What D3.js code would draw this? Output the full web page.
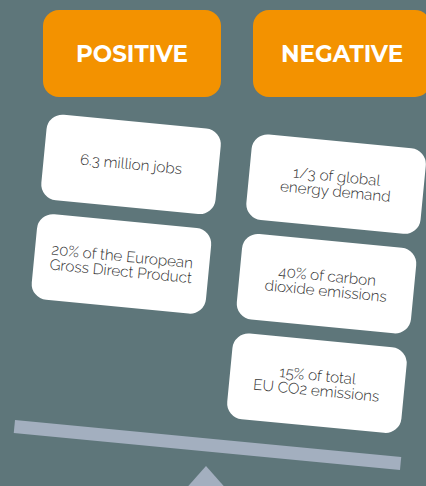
<!DOCTYPE html>
<html>
<head>
<meta charset="utf-8">
<script src="https://cdn.jsdelivr.net/npm/d3@7"></script>
<style>
  html, body { margin: 0; padding: 0; background: #5e767a; }
  svg { display: block; }
</style>
</head>
<body>
<div id="chart"></div>
<script>
// Datos
const headers = ["POSITIVE", "NEGATIVE"];
const positives = [["6.3 million jobs"], ["20% of the European", "Gross Direct Product"]];
const negatives = [["1/3 of global", "energy demand"], ["40% of carbon", "dioxide emissions"], ["15% of total", "EU CO2 emissions"]];
const beamTilt = 5.5; // grados

const width = 426, height = 486;
const svg = d3.select("#chart").append("svg")
    .attr("width", width)
    .attr("height", height);

svg.append("rect")
    .attr("width", width)
    .attr("height", height)
    .attr("fill", "#5e767a");

// Cabeceras naranjas
const xHead = d3.scaleBand()
    .domain(headers)
    .range([43, 431])
    .paddingInner(0.1524);

const head = svg.selectAll("g.head")
    .data(headers)
    .enter().append("g")
    .attr("class", "head");

head.append("rect")
    .attr("x", d => xHead(d))
    .attr("y", 10)
    .attr("width", xHead.bandwidth())
    .attr("height", 87)
    .attr("rx", 16)
    .attr("fill", "#f39200");

head.append("text")
    .attr("x", d => xHead(d) + xHead.bandwidth() / 2)
    .attr("y", 54)
    .attr("text-anchor", "middle")
    .attr("dominant-baseline", "central")
    .attr("font-family", "Montserrat, Lato, sans-serif")
    .attr("font-weight", 700)
    .attr("font-size", 23)
    .attr("fill", "#fff")
    .text(d => d);

// Balancin (grupo girado alrededor del centro de la barra)
const scale = svg.append("g")
    .attr("transform", `translate(207.5,445) rotate(${beamTilt})`);

const xCol = d3.scaleBand()
    .domain(headers)
    .range([-190.5, 190.5])
    .paddingInner(0.1505);

const yRow = d3.scaleBand()
    .domain(d3.range(3))
    .range([-315, -29])
    .paddingInner(0.14);

const xBeam = d3.scaleLinear().domain([0, 1]).range([-194, 194]);

// Barra
scale.append("rect")
    .attr("x", xBeam(0))
    .attr("y", -6.5)
    .attr("width", xBeam(1) - xBeam(0))
    .attr("height", 13)
    .attr("fill", "#a3afbf");

// Tarjetas
const cards = [
    ...positives.map((lines, i) => ({ col: "POSITIVE", row: i, lines })),
    ...negatives.map((lines, i) => ({ col: "NEGATIVE", row: i, lines }))
];

const card = scale.selectAll("g.card")
    .data(cards)
    .enter().append("g")
    .attr("class", "card")
    .attr("transform", d => `translate(${xCol(d.col)},${yRow(d.row)})`);

card.append("rect")
    .attr("width", xCol.bandwidth())
    .attr("height", yRow.bandwidth())
    .attr("rx", 16)
    .attr("fill", "#fff");

const lh = 15;
card.append("text")
    .attr("x", xCol.bandwidth() / 2)
    .attr("y", yRow.bandwidth() / 2)
    .attr("text-anchor", "middle")
    .attr("font-family", "Raleway, Lato, sans-serif")
    .attr("font-weight", 300)
    .attr("font-size", 15.2)
    .attr("fill", "#333")
    .selectAll("tspan")
    .data(d => d.lines.map((t, i) => ({ t, i, n: d.lines.length })))
    .enter().append("tspan")
    .attr("x", xCol.bandwidth() / 2)
    .attr("dy", d => d.i === 0 ? (-(d.n - 1) * lh / 2 + 5) : lh)
    .text(d => d.t);

// Fulcro
svg.append("path")
    .attr("d", "M206,466 L183,492 L229,492 Z")
    .attr("fill", "#a3afbf");
</script>
</body>
</html>
